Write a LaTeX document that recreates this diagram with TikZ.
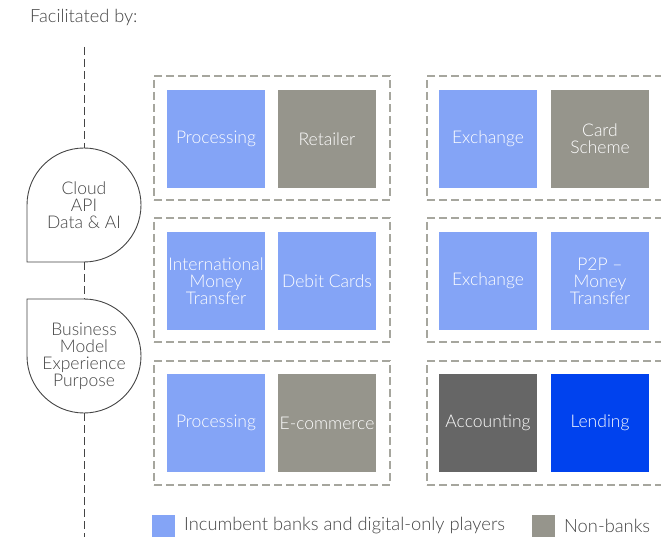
\documentclass[tikz,border=0pt]{standalone}
\usepackage{fontspec}
\setmainfont{Lato}[UprightFont=* Light]
\usepackage{xcolor}
\usepackage{tikz}

\definecolor{incumbent}{HTML}{84A4F6}
\definecolor{nonbank}{HTML}{96958C}
\definecolor{darktile}{HTML}{666666}
\definecolor{lendblue}{HTML}{0042EE}
\definecolor{dashgray}{HTML}{A6A69E}
\definecolor{inkgray}{HTML}{444444}

\tikzset{
    tile/.style={minimum size=98pt, inner sep=0pt, outer sep=0pt,
        text=white, align=center, font=\fontsize{17.5}{17}\selectfont},
    group/.style={draw=dashgray, dash pattern=on 8pt off 4pt, line width=1.2pt,
        minimum width=236pt, minimum height=124pt, inner sep=0pt},
    spine/.style={draw=inkgray, dash pattern=on 8pt off 4pt, line width=0.9pt},
    drop/.style={draw=inkgray, line width=0.9pt},
    droptext/.style={align=center, text=inkgray, font=\fontsize{17.5}{17}\selectfont},
    key/.style={minimum size=23pt, inner sep=0pt},
    keytext/.style={anchor=west, inner sep=0pt, text=inkgray, font=\fontsize{18.3}{19}\selectfont}
}

\begin{document}
\begin{tikzpicture}[x=1pt, y=-1pt]
    \path[use as bounding box, clip] (0, 0) rectangle (661, 537);

    \node (facil) [anchor=west, inner sep=0pt, text=inkgray,
        font=\fontsize{18.2}{19}\selectfont] at (30, 17) {Facilitated by:};

    % left spine with the two drops
    \coordinate (spinetop) at (84, 47);
    \coordinate (cloudtop) at (84, 148);
    \coordinate (cloudbot) at (84, 262);
    \coordinate (bizztop) at (84, 299);
    \coordinate (bizzbot) at (84, 413);
    \coordinate (spinebot) at (84, 537);

    \draw[drop] (27, 205) arc [start angle=180, end angle=450, radius=57]
        -- (27, 262) -- cycle;
    \draw[drop] (bizztop) arc [start angle=270, end angle=540, radius=57]
        -- (27, 299) -- cycle;

    \draw[spine] (spinetop) -- (cloudtop);
    \draw[spine] (cloudbot) -- (bizztop);
    \draw[spine] (bizzbot) -- (spinebot);

    \node (cloud) [droptext] at (84, 205) {Cloud\\API\\Data \& AI};
    \node (bizz) [droptext] at (84, 356) {Business\\Model\\Experience\\Purpose};

    % dashed groups
    \node (grpa) [group] at (272, 138) {};
    \node (grpb) [group] at (545, 138) {};
    \node (grpc) [group] at (272, 280) {};
    \node (grpd) [group] at (545, 280) {};
    \node (grpe) [group] at (272, 423) {};
    \node (grpf) [group] at (545, 423) {};

    % tiles
    \node (proca) [tile, fill=incumbent] at (216, 139) {Processing};
    \node (retail) [tile, fill=nonbank] at (327, 139) {Retailer};
    \node (excha) [tile, fill=incumbent] at (488, 139) {Exchange};
    \node (cards) [tile, fill=nonbank] at (600, 139) {Card\\Scheme};

    \node (intl) [tile, fill=incumbent] at (216, 281) {International\\Money\\Transfer};
    \node (debit) [tile, fill=incumbent] at (327, 281) {Debit Cards};
    \node (exchb) [tile, fill=incumbent] at (488, 281) {Exchange};
    \node (ptwop) [tile, fill=incumbent] at (600, 281) {P2P –\\Money\\Transfer};

    \node (procb) [tile, fill=incumbent] at (216, 423) {Processing};
    \node (ecom) [tile, fill=nonbank] at (327, 423) {E-commerce};
    \node (acct) [tile, fill=darktile] at (488, 423) {Accounting};
    \node (lend) [tile, fill=lendblue] at (600, 423) {Lending};

    % legend
    \node (keyinc) [key, fill=incumbent] at (163.5, 526) {};
    \node (txtinc) [keytext] at (184, 526) {Incumbent banks and digital-only players};
    \node (keynon) [key, fill=nonbank] at (543.5, 526) {};
    \node (txtnon) [keytext] at (564, 526) {Non-banks};
\end{tikzpicture}
\end{document}
